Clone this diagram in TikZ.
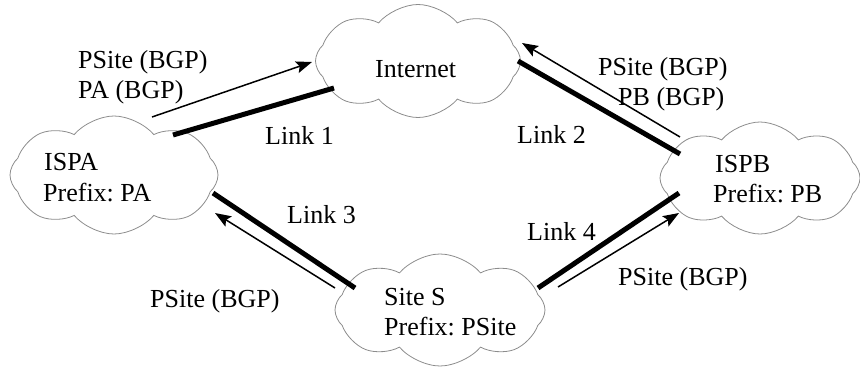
\documentclass[tikz,border=0pt]{standalone}
\usepackage{fontspec}
\setmainfont{Liberation Serif}
\usetikzlibrary{shapes.symbols,arrows.meta}
\frenchspacing
\begin{document}
\begin{tikzpicture}[x=1pt,y=-1pt,
  net/.style={cloud, cloud puffs=8, cloud puff arc=100, cloud ignores aspect,
    draw=black!45, line width=0.8pt, inner sep=0pt},
  lbl/.style={font=\fontsize{26}{30}\selectfont, inner sep=0pt, anchor=base west},
  link/.style={line width=5pt},
  adv/.style={line width=1.5pt, -{Stealth[length=16pt,width=12pt,inset=3pt]}}]
\useasboundingbox (0,0) rectangle (860,367);

% networks
\node[net, minimum width=205pt, minimum height=113pt] (inet) at (418,61) {};
\node[net, minimum width=208pt, minimum height=118pt] (ispa) at (114,175) {};
\node[net, minimum width=200pt, minimum height=112pt] (ispb) at (760,178) {};
\node[net, minimum width=210pt, minimum height=112pt] (site) at (440,310) {};

\node[lbl] (tinet) at (375,77) {Internet};
\node[lbl] (tispa) at (44,170) {ISPA};
\node[lbl] (pispa) at (43,201) {Prefix: PA};
\node[lbl] (tispb) at (715,172) {ISPB};
\node[lbl] (pispb) at (713,202) {Prefix: PB};
\node[lbl] (tsite) at (384,305) {Site S};
\node[lbl] (psite) at (384,335) {Prefix: PSite};

% link end points
\coordinate (l1a) at (173,135); \coordinate (l1b) at (334,88);
\coordinate (l2a) at (518,61);  \coordinate (l2b) at (680,154);
\coordinate (l3a) at (213,193); \coordinate (l3b) at (355,288);
\coordinate (l4a) at (538,288); \coordinate (l4b) at (679,193);

\draw[link] (l1a) -- (l1b);
\draw[link] (l2a) -- (l2b);
\draw[link] (l3a) -- (l3b);
\draw[link] (l4a) -- (l4b);

% route advertisements
\coordinate (a1s) at (152,117); \coordinate (a1e) at (312,62);
\coordinate (a2s) at (680,137); \coordinate (a2e) at (522,43);
\coordinate (a3s) at (335,288); \coordinate (a3e) at (215,213);
\coordinate (a4s) at (558,287); \coordinate (a4e) at (679,213);

\draw[adv] (a1s) -- (a1e);
\draw[adv] (a2s) -- (a2e);
\draw[adv] (a3s) -- (a3e);
\draw[adv] (a4s) -- (a4e);

% labels
\node[lbl] (k1) at (265,144) {Link 1};
\node[lbl] (k2) at (517,143) {Link 2};
\node[lbl] (k3) at (287,223) {Link 3};
\node[lbl] (k4) at (527,240) {Link 4};

\node[lbl] (r1a) at (78,68) {PSite (BGP)};
\node[lbl] (r1b) at (78,98) {PA (BGP)};
\node[lbl] (r2a) at (598,75) {PSite (BGP)};
\node[lbl] (r2b) at (618,105) {PB (BGP)};
\node[lbl] (r3) at (150,307) {PSite (BGP)};
\node[lbl] (r4) at (618,285) {PSite (BGP)};
\end{tikzpicture}
\end{document}
